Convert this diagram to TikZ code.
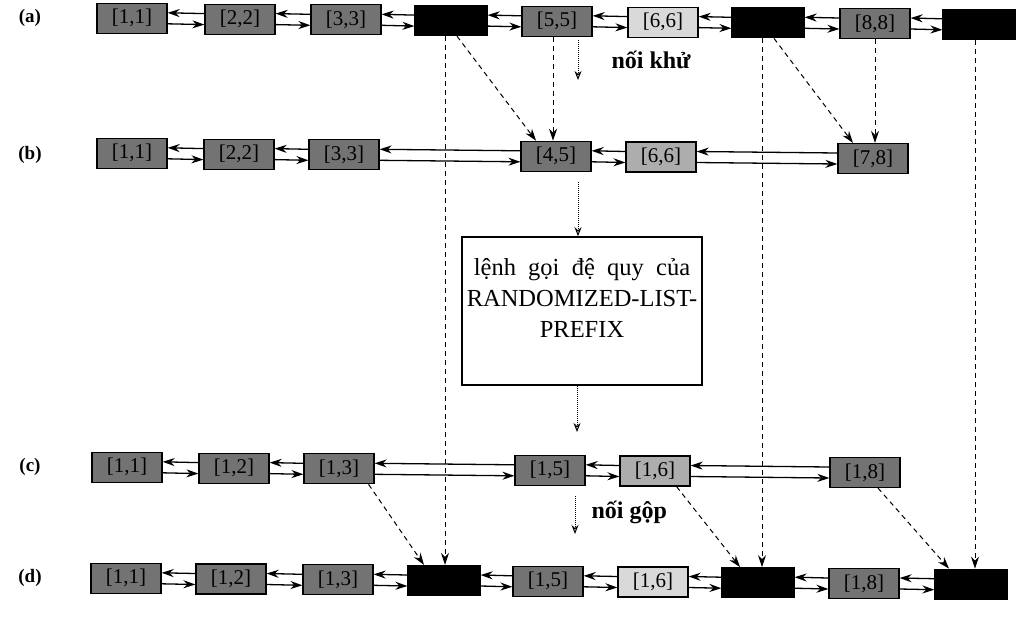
\documentclass[tikz,border=0pt]{standalone}
\usepackage{fontspec}
\setmainfont{Liberation Serif}
\usetikzlibrary{arrows.meta,calc}
\newcommand\dlink[2]{%
  \draw[link] ([yshift=5.5pt]#2.west) -- ([yshift=5.5pt]#1.east);
  \draw[link] ([yshift=-5.5pt]#1.east) -- ([yshift=-5.5pt]#2.west);}
\begin{document}
\begin{tikzpicture}[x=1pt,y=-1pt,
  cell/.style={draw=black,line width=1.2pt,minimum width=70pt,minimum height=30pt,inner sep=0pt,fill=black!55,text=black,font=\fontsize{21}{21}\selectfont},
  dcell/.style={cell,fill=black,minimum width=72pt},
  lcell/.style={cell,fill=black!15},
  mcell/.style={cell,fill=black!32},
  link/.style={line width=1.3pt,-{Stealth[length=12pt,width=8pt]}},
  dsh/.style={line width=1pt,dash pattern=on 5pt off 4pt,-{Stealth[length=12pt,width=8pt]}},
  dotarr/.style={line width=1pt,densely dotted,-{Stealth[length=9pt,width=7pt,open]}},
  lab/.style={font=\fontsize{19}{19}\selectfont\bfseries},
  note/.style={font=\fontsize{24}{24}\selectfont\bfseries},
  bigbox/.style={draw=black,line width=1.5pt,minimum width=240pt,minimum height=148pt},
  bigtext/.style={align=center,font=\fontsize{24.5}{31}\selectfont}
]
\useasboundingbox (0,0) rectangle (1024,622);
% labels
\node[lab] (la) at (30,18) {(a)};
\node[lab] (lb) at (30,155) {(b)};
\node[lab] (lc) at (30,467) {(c)};
\node[lab] (ld) at (30,578) {(d)};
% row a
\node[cell]  (a1) at (132,18.3) {[1,1]};
\node[cell]  (a2) at (240,19.1) {[2,2]};
\node[cell]  (a3) at (346,19.8) {[3,3]};
\node[dcell] (a4) at (451,20.6) {[4,4]};
\node[cell]  (a5) at (557,21.3) {[5,5]};
\node[lcell] (a6) at (663,22.1) {[6,6]};
\node[dcell] (a7) at (768,22.8) {[7,7]};
\node[cell]  (a8) at (875,23.5) {[8,8]};
\node[dcell] (a9) at (979,24.3) {[9,9]};
% row b
\node[cell]  (b1) at (132,153.3) {[1,1]};
\node[cell]  (b2) at (239,154.1) {[2,2]};
\node[cell]  (b3) at (344,154.8) {[3,3]};
\node[cell]  (b45) at (556,156.3) {[4,5]};
\node[mcell] (b6) at (661,157.0) {[6,6]};
\node[cell]  (b78) at (873,158.5) {[7,8]};
% big box
\node[bigbox] (big) at (582,311) {};
\node[bigtext] (bigt) at (582,298) {{\spaceskip=0.5em lệnh gọi đệ quy của}\\RANDOMIZED-LIST-\\PREFIX};
% row c
\node[cell]  (c1) at (127,467.3) {[1,1]};
\node[cell]  (c2) at (234,468.1) {[1,2]};
\node[cell]  (c3) at (339,468.8) {[1,3]};
\node[cell]  (c5) at (550,470.3) {[1,5]};
\node[mcell] (c6) at (655,471.0) {[1,6]};
\node[cell]  (c8) at (865,472.5) {[1,8]};
% row d
\node[cell]  (d1) at (126,578.3) {[1,1]};
\node[cell]  (d2) at (231,579.0) {[1,2]};
\node[cell]  (d3) at (338,579.8) {[1,3]};
\node[dcell] (d4) at (444,580.5) {[1,4]};
\node[cell]  (d5) at (548,581.3) {[1,5]};
\node[lcell] (d6) at (653,582.0) {[1,6]};
\node[dcell] (d7) at (758,582.7) {[1,7]};
\node[cell]  (d8) at (864,583.5) {[1,8]};
\node[dcell] (d9) at (971,584.2) {[1,9]};
% links
\dlink{a1}{a2}\dlink{a2}{a3}\dlink{a3}{a4}\dlink{a4}{a5}\dlink{a5}{a6}\dlink{a6}{a7}\dlink{a7}{a8}\dlink{a8}{a9}
\dlink{b1}{b2}\dlink{b2}{b3}\dlink{b3}{b45}\dlink{b45}{b6}\dlink{b6}{b78}
\dlink{c1}{c2}\dlink{c2}{c3}\dlink{c3}{c5}\dlink{c5}{c6}\dlink{c6}{c8}
\dlink{d1}{d2}\dlink{d2}{d3}\dlink{d3}{d4}\dlink{d4}{d5}\dlink{d5}{d6}\dlink{d6}{d7}\dlink{d7}{d8}\dlink{d8}{d9}
% dashed: a -> b
\draw[dsh] ([xshift=6pt]a4.south) -- ([xshift=-20pt]b45.north);
\draw[dsh] ([xshift=-4pt]a5.south) -- ([xshift=-4pt]a5.south |- b45.north);
\draw[dsh] ([xshift=6pt]a7.south) -- ([xshift=-20pt]b78.north);
\draw[dsh] (a8.south) -- (a8.south |- b78.north);
% dashed: a -> d
\draw[dsh] ([xshift=-6pt]a4.south) -- ([xshift=-6pt]a4.south |- d4.north);
\draw[dsh] ([xshift=-6pt]a7.south) -- ([xshift=-6pt]a7.south |- d7.north);
\draw[dsh] ([xshift=-4pt]a9.south) -- ([xshift=-4pt]a9.south |- d9.north);
% dashed: c -> d
\draw[dsh] ([xshift=-6pt]c3.south east) -- ([xshift=-20pt]d4.north);
\draw[dsh] ([xshift=-14pt]c6.south east) -- ([xshift=-18pt]d7.north);
\draw[dsh] ([xshift=13pt]c8.south) -- ([xshift=-22pt]d9.north);
% dotted arrows
\coordinate (k1) at (578,40);
\coordinate (k2) at (578,80);
\draw[dotarr] (k1) -- (k2);
\node[note,anchor=west] (nk) at (608,60) {nối khử};
\coordinate (r1) at (578,182);
\draw[dotarr] (r1) -- (r1 |- big.north);
\coordinate (r2) at (577,432);
\draw[dotarr] (r2 |- big.south) -- (r2);
\coordinate (g1) at (575,496);
\coordinate (g2) at (575,534);
\draw[dotarr] (g1) -- (g2);
\node[note,anchor=west] (ng) at (588,512) {nối gộp};
\end{tikzpicture}
\end{document}
